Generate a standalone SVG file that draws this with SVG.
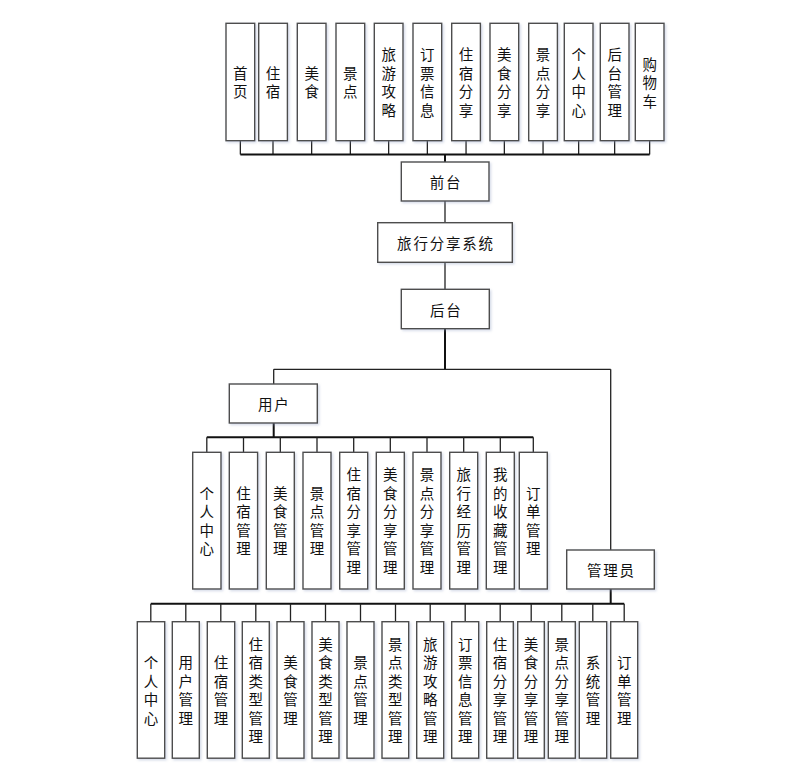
<svg xmlns="http://www.w3.org/2000/svg" width="796" height="767" viewBox="0 0 796 767">
<defs>
<filter id="sh" x="-20%" y="-20%" width="150%" height="150%">
<feDropShadow dx="1.5" dy="1.5" stdDeviation="1.2" flood-color="#8a9ac0" flood-opacity="0.35"/>
</filter>
<style>
.b{fill:#fff;stroke:#4d4d4d;stroke-width:1.4;filter:url(#sh)}
.t{font-family:"Noto Sans CJK SC","Microsoft YaHei",sans-serif;font-size:14.5px;fill:#111;text-anchor:middle;dominant-baseline:central}
.h{letter-spacing:1.8px}
.c line{stroke:#222;stroke-width:1.3}
.c .k{stroke:#111;stroke-width:2}
</style>
</defs>
<rect width="796" height="767" fill="#fff"/>

<g class="c" id="connectors">
<line x1="240.35" y1="140.7" x2="240.35" y2="154.5"/>
<line x1="273" y1="140.7" x2="273" y2="154.5"/>
<line x1="311.65" y1="140.7" x2="311.65" y2="154.5"/>
<line x1="350.35" y1="140.7" x2="350.35" y2="154.5"/>
<line x1="388.65" y1="140.7" x2="388.65" y2="154.5"/>
<line x1="427.35" y1="140.7" x2="427.35" y2="154.5"/>
<line x1="466.05" y1="140.7" x2="466.05" y2="154.5"/>
<line x1="504.35" y1="140.7" x2="504.35" y2="154.5"/>
<line x1="543.05" y1="140.7" x2="543.05" y2="154.5"/>
<line x1="578.65" y1="140.7" x2="578.65" y2="154.5"/>
<line x1="614.65" y1="140.7" x2="614.65" y2="154.5"/>
<line x1="649.65" y1="140.7" x2="649.65" y2="154.5"/>
<line class="k" x1="240.35" y1="154.5" x2="649.65" y2="154.5"/>
<line class="k" x1="445" y1="154.5" x2="445" y2="162"/>
<line x1="445" y1="201" x2="445" y2="222.7"/>
<line x1="445" y1="262.3" x2="445" y2="289.3"/>
<line class="k" x1="445" y1="328.7" x2="445" y2="369.3"/>
<line x1="273.7" y1="369.3" x2="610.7" y2="369.3"/>
<line x1="273.7" y1="369.3" x2="273.7" y2="384"/>
<line x1="610.7" y1="369.3" x2="610.7" y2="550"/>
<line class="k" x1="273.7" y1="423" x2="273.7" y2="437.3"/>
<line class="k" x1="206.8" y1="437.3" x2="533.3" y2="437.3"/>
<line x1="206.8" y1="437.3" x2="206.8" y2="452.3"/>
<line x1="243.5" y1="437.3" x2="243.5" y2="452.3"/>
<line x1="280.3" y1="437.3" x2="280.3" y2="452.3"/>
<line x1="317" y1="437.3" x2="317" y2="452.3"/>
<line x1="353.7" y1="437.3" x2="353.7" y2="452.3"/>
<line x1="390.3" y1="437.3" x2="390.3" y2="452.3"/>
<line x1="427" y1="437.3" x2="427" y2="452.3"/>
<line x1="463.7" y1="437.3" x2="463.7" y2="452.3"/>
<line x1="500.3" y1="437.3" x2="500.3" y2="452.3"/>
<line x1="533.3" y1="437.3" x2="533.3" y2="452.3"/>
<line class="k" x1="610.7" y1="589" x2="610.7" y2="603.7"/>
<line class="k" x1="150.8" y1="603.7" x2="624.2" y2="603.7"/>
<line x1="150.8" y1="603.7" x2="150.8" y2="621.7"/>
<line x1="185.8" y1="603.7" x2="185.8" y2="621.7"/>
<line x1="220.8" y1="603.7" x2="220.8" y2="621.7"/>
<line x1="255.8" y1="603.7" x2="255.8" y2="621.7"/>
<line x1="290.5" y1="603.7" x2="290.5" y2="621.7"/>
<line x1="325.5" y1="603.7" x2="325.5" y2="621.7"/>
<line x1="360.5" y1="603.7" x2="360.5" y2="621.7"/>
<line x1="395.5" y1="603.7" x2="395.5" y2="621.7"/>
<line x1="430.2" y1="603.7" x2="430.2" y2="621.7"/>
<line x1="465.2" y1="603.7" x2="465.2" y2="621.7"/>
<line x1="500.2" y1="603.7" x2="500.2" y2="621.7"/>
<line x1="531.2" y1="603.7" x2="531.2" y2="621.7"/>
<line x1="561.8" y1="603.7" x2="561.8" y2="621.7"/>
<line x1="592.8" y1="603.7" x2="592.8" y2="621.7"/>
<line x1="624.2" y1="603.7" x2="624.2" y2="621.7"/>
</g>

<g id="t1"><rect class="b" x="226" y="23.3" width="28.7" height="117.4"/><text class="t"><tspan x="240.35" y="71.75">首</tspan><tspan x="240.35" y="90.25">页</tspan></text></g>
<g id="t2"><rect class="b" x="258.7" y="23.3" width="28.7" height="117.4"/><text class="t"><tspan x="273" y="71.75">住</tspan><tspan x="273" y="90.25">宿</tspan></text></g>
<g id="t3"><rect class="b" x="297.3" y="23.3" width="28.7" height="117.4"/><text class="t"><tspan x="311.65" y="71.75">美</tspan><tspan x="311.65" y="90.25">食</tspan></text></g>
<g id="t4"><rect class="b" x="336" y="23.3" width="28.7" height="117.4"/><text class="t"><tspan x="350.35" y="71.75">景</tspan><tspan x="350.35" y="90.25">点</tspan></text></g>
<g id="t5"><rect class="b" x="374.3" y="23.3" width="28.7" height="117.4"/><text class="t"><tspan x="388.65" y="53.25">旅</tspan><tspan x="388.65" y="71.75">游</tspan><tspan x="388.65" y="90.25">攻</tspan><tspan x="388.65" y="108.75">略</tspan></text></g>
<g id="t6"><rect class="b" x="413" y="23.3" width="28.7" height="117.4"/><text class="t"><tspan x="427.35" y="53.25">订</tspan><tspan x="427.35" y="71.75">票</tspan><tspan x="427.35" y="90.25">信</tspan><tspan x="427.35" y="108.75">息</tspan></text></g>
<g id="t7"><rect class="b" x="451.7" y="23.3" width="28.7" height="117.4"/><text class="t"><tspan x="466.05" y="53.25">住</tspan><tspan x="466.05" y="71.75">宿</tspan><tspan x="466.05" y="90.25">分</tspan><tspan x="466.05" y="108.75">享</tspan></text></g>
<g id="t8"><rect class="b" x="490" y="23.3" width="28.7" height="117.4"/><text class="t"><tspan x="504.35" y="53.25">美</tspan><tspan x="504.35" y="71.75">食</tspan><tspan x="504.35" y="90.25">分</tspan><tspan x="504.35" y="108.75">享</tspan></text></g>
<g id="t9"><rect class="b" x="528.7" y="23.3" width="28.7" height="117.4"/><text class="t"><tspan x="543.05" y="53.25">景</tspan><tspan x="543.05" y="71.75">点</tspan><tspan x="543.05" y="90.25">分</tspan><tspan x="543.05" y="108.75">享</tspan></text></g>
<g id="t10"><rect class="b" x="564.3" y="23.3" width="28.7" height="117.4"/><text class="t"><tspan x="578.65" y="53.25">个</tspan><tspan x="578.65" y="71.75">人</tspan><tspan x="578.65" y="90.25">中</tspan><tspan x="578.65" y="108.75">心</tspan></text></g>
<g id="t11"><rect class="b" x="600.3" y="23.3" width="28.7" height="117.4"/><text class="t"><tspan x="614.65" y="53.25">后</tspan><tspan x="614.65" y="71.75">台</tspan><tspan x="614.65" y="90.25">管</tspan><tspan x="614.65" y="108.75">理</tspan></text></g>
<g id="t12"><rect class="b" x="635.3" y="23.3" width="28.7" height="117.4"/><text class="t"><tspan x="649.65" y="62.5">购</tspan><tspan x="649.65" y="81">物</tspan><tspan x="649.65" y="99.5">车</tspan></text></g>

<g id="qiantai"><rect class="b" x="401.3" y="162" width="87.7" height="39"/><text class="t h" x="446" y="181.5">前台</text></g>
<g id="system"><rect class="b" x="377.7" y="222.7" width="134.6" height="39.6"/><text class="t h" x="446" y="242.5">旅行分享系统</text></g>
<g id="houtai"><rect class="b" x="401.3" y="289.3" width="88" height="39.4"/><text class="t h" x="446.2" y="309">后台</text></g>
<g id="user"><rect class="b" x="229.3" y="384" width="88" height="39"/><text class="t h" x="274.2" y="403.5">用户</text></g>
<g id="admin"><rect class="b" x="566.7" y="550" width="87.6" height="39"/><text class="t h" x="611.4" y="569.5">管理员</text></g>

<g id="u1"><rect class="b" x="192.7" y="452.3" width="28.3" height="136.7"/><text class="t"><tspan x="206.85" y="491.75">个</tspan><tspan x="206.85" y="510.25">人</tspan><tspan x="206.85" y="528.75">中</tspan><tspan x="206.85" y="547.25">心</tspan></text></g>
<g id="u2"><rect class="b" x="229.3" y="452.3" width="28.3" height="136.7"/><text class="t"><tspan x="243.45" y="491.75">住</tspan><tspan x="243.45" y="510.25">宿</tspan><tspan x="243.45" y="528.75">管</tspan><tspan x="243.45" y="547.25">理</tspan></text></g>
<g id="u3"><rect class="b" x="266.3" y="452.3" width="28" height="136.7"/><text class="t"><tspan x="280.3" y="491.75">美</tspan><tspan x="280.3" y="510.25">食</tspan><tspan x="280.3" y="528.75">管</tspan><tspan x="280.3" y="547.25">理</tspan></text></g>
<g id="u4"><rect class="b" x="303" y="452.3" width="28" height="136.7"/><text class="t"><tspan x="317" y="491.75">景</tspan><tspan x="317" y="510.25">点</tspan><tspan x="317" y="528.75">管</tspan><tspan x="317" y="547.25">理</tspan></text></g>
<g id="u5"><rect class="b" x="339.7" y="452.3" width="28" height="136.7"/><text class="t"><tspan x="353.7" y="473.25">住</tspan><tspan x="353.7" y="491.75">宿</tspan><tspan x="353.7" y="510.25">分</tspan><tspan x="353.7" y="528.75">享</tspan><tspan x="353.7" y="547.25">管</tspan><tspan x="353.7" y="565.75">理</tspan></text></g>
<g id="u6"><rect class="b" x="376.3" y="452.3" width="28" height="136.7"/><text class="t"><tspan x="390.3" y="473.25">美</tspan><tspan x="390.3" y="491.75">食</tspan><tspan x="390.3" y="510.25">分</tspan><tspan x="390.3" y="528.75">享</tspan><tspan x="390.3" y="547.25">管</tspan><tspan x="390.3" y="565.75">理</tspan></text></g>
<g id="u7"><rect class="b" x="413" y="452.3" width="28" height="136.7"/><text class="t"><tspan x="427" y="473.25">景</tspan><tspan x="427" y="491.75">点</tspan><tspan x="427" y="510.25">分</tspan><tspan x="427" y="528.75">享</tspan><tspan x="427" y="547.25">管</tspan><tspan x="427" y="565.75">理</tspan></text></g>
<g id="u8"><rect class="b" x="449.7" y="452.3" width="28" height="136.7"/><text class="t"><tspan x="463.7" y="473.25">旅</tspan><tspan x="463.7" y="491.75">行</tspan><tspan x="463.7" y="510.25">经</tspan><tspan x="463.7" y="528.75">历</tspan><tspan x="463.7" y="547.25">管</tspan><tspan x="463.7" y="565.75">理</tspan></text></g>
<g id="u9"><rect class="b" x="486.3" y="452.3" width="28" height="136.7"/><text class="t"><tspan x="500.3" y="473.25">我</tspan><tspan x="500.3" y="491.75">的</tspan><tspan x="500.3" y="510.25">收</tspan><tspan x="500.3" y="528.75">藏</tspan><tspan x="500.3" y="547.25">管</tspan><tspan x="500.3" y="565.75">理</tspan></text></g>
<g id="u10"><rect class="b" x="519.3" y="452.3" width="28" height="136.7"/><text class="t"><tspan x="533.3" y="491.75">订</tspan><tspan x="533.3" y="510.25">单</tspan><tspan x="533.3" y="528.75">管</tspan><tspan x="533.3" y="547.25">理</tspan></text></g>

<g id="a1"><rect class="b" x="137.3" y="621.7" width="27.4" height="136.5"/><text class="t"><tspan x="151" y="661.25">个</tspan><tspan x="151" y="679.75">人</tspan><tspan x="151" y="698.25">中</tspan><tspan x="151" y="716.75">心</tspan></text></g>
<g id="a2"><rect class="b" x="172.3" y="621.7" width="27" height="136.5"/><text class="t"><tspan x="185.8" y="661.25">用</tspan><tspan x="185.8" y="679.75">户</tspan><tspan x="185.8" y="698.25">管</tspan><tspan x="185.8" y="716.75">理</tspan></text></g>
<g id="a3"><rect class="b" x="207.3" y="621.7" width="27.4" height="136.5"/><text class="t"><tspan x="221" y="661.25">住</tspan><tspan x="221" y="679.75">宿</tspan><tspan x="221" y="698.25">管</tspan><tspan x="221" y="716.75">理</tspan></text></g>
<g id="a4"><rect class="b" x="242.3" y="621.7" width="27" height="136.5"/><text class="t"><tspan x="255.8" y="642.75">住</tspan><tspan x="255.8" y="661.25">宿</tspan><tspan x="255.8" y="679.75">类</tspan><tspan x="255.8" y="698.25">型</tspan><tspan x="255.8" y="716.75">管</tspan><tspan x="255.8" y="735.25">理</tspan></text></g>
<g id="a5"><rect class="b" x="277" y="621.7" width="27" height="136.5"/><text class="t"><tspan x="290.5" y="661.25">美</tspan><tspan x="290.5" y="679.75">食</tspan><tspan x="290.5" y="698.25">管</tspan><tspan x="290.5" y="716.75">理</tspan></text></g>
<g id="a6"><rect class="b" x="312" y="621.7" width="27" height="136.5"/><text class="t"><tspan x="325.5" y="642.75">美</tspan><tspan x="325.5" y="661.25">食</tspan><tspan x="325.5" y="679.75">类</tspan><tspan x="325.5" y="698.25">型</tspan><tspan x="325.5" y="716.75">管</tspan><tspan x="325.5" y="735.25">理</tspan></text></g>
<g id="a7"><rect class="b" x="347" y="621.7" width="27" height="136.5"/><text class="t"><tspan x="360.5" y="661.25">景</tspan><tspan x="360.5" y="679.75">点</tspan><tspan x="360.5" y="698.25">管</tspan><tspan x="360.5" y="716.75">理</tspan></text></g>
<g id="a8"><rect class="b" x="382" y="621.7" width="26.7" height="136.5"/><text class="t"><tspan x="395.35" y="642.75">景</tspan><tspan x="395.35" y="661.25">点</tspan><tspan x="395.35" y="679.75">类</tspan><tspan x="395.35" y="698.25">型</tspan><tspan x="395.35" y="716.75">管</tspan><tspan x="395.35" y="735.25">理</tspan></text></g>
<g id="a9"><rect class="b" x="416.7" y="621.7" width="27" height="136.5"/><text class="t"><tspan x="430.2" y="642.75">旅</tspan><tspan x="430.2" y="661.25">游</tspan><tspan x="430.2" y="679.75">攻</tspan><tspan x="430.2" y="698.25">略</tspan><tspan x="430.2" y="716.75">管</tspan><tspan x="430.2" y="735.25">理</tspan></text></g>
<g id="a10"><rect class="b" x="451.7" y="621.7" width="27" height="136.5"/><text class="t"><tspan x="465.2" y="642.75">订</tspan><tspan x="465.2" y="661.25">票</tspan><tspan x="465.2" y="679.75">信</tspan><tspan x="465.2" y="698.25">息</tspan><tspan x="465.2" y="716.75">管</tspan><tspan x="465.2" y="735.25">理</tspan></text></g>
<g id="a11"><rect class="b" x="486.7" y="621.7" width="26.6" height="136.5"/><text class="t"><tspan x="500" y="642.75">住</tspan><tspan x="500" y="661.25">宿</tspan><tspan x="500" y="679.75">分</tspan><tspan x="500" y="698.25">享</tspan><tspan x="500" y="716.75">管</tspan><tspan x="500" y="735.25">理</tspan></text></g>
<g id="a12"><rect class="b" x="517.7" y="621.7" width="26.6" height="136.5"/><text class="t"><tspan x="531" y="642.75">美</tspan><tspan x="531" y="661.25">食</tspan><tspan x="531" y="679.75">分</tspan><tspan x="531" y="698.25">享</tspan><tspan x="531" y="716.75">管</tspan><tspan x="531" y="735.25">理</tspan></text></g>
<g id="a13"><rect class="b" x="548.3" y="621.7" width="27" height="136.5"/><text class="t"><tspan x="561.8" y="642.75">景</tspan><tspan x="561.8" y="661.25">点</tspan><tspan x="561.8" y="679.75">分</tspan><tspan x="561.8" y="698.25">享</tspan><tspan x="561.8" y="716.75">管</tspan><tspan x="561.8" y="735.25">理</tspan></text></g>
<g id="a14"><rect class="b" x="579.3" y="621.7" width="27.4" height="136.5"/><text class="t"><tspan x="593" y="661.25">系</tspan><tspan x="593" y="679.75">统</tspan><tspan x="593" y="698.25">管</tspan><tspan x="593" y="716.75">理</tspan></text></g>
<g id="a15"><rect class="b" x="610.7" y="621.7" width="27" height="136.5"/><text class="t"><tspan x="624.2" y="661.25">订</tspan><tspan x="624.2" y="679.75">单</tspan><tspan x="624.2" y="698.25">管</tspan><tspan x="624.2" y="716.75">理</tspan></text></g>
</svg>
